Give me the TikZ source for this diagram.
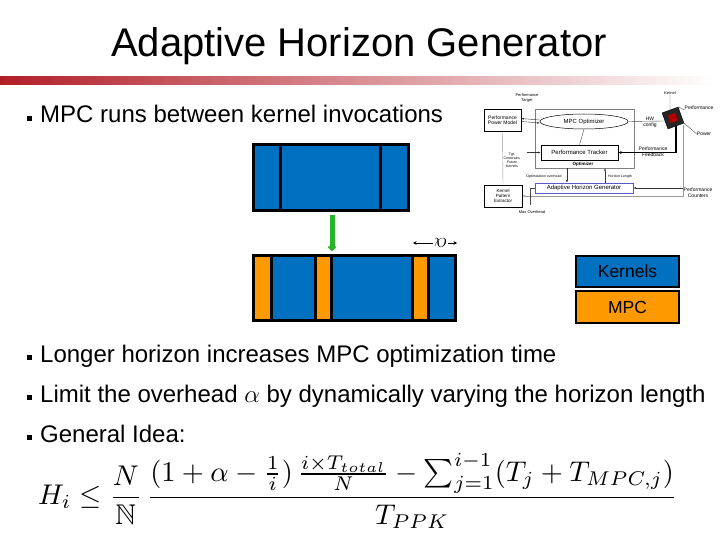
\documentclass[tikz,border=0pt]{standalone}
\usepackage{fontspec}
\setmainfont{Liberation Sans}
\usepackage{amssymb}
\usetikzlibrary{arrows.meta,shapes.geometric,calc}
\definecolor{kblue}{RGB}{0,112,192}
\definecolor{morange}{RGB}{255,153,0}
\definecolor{barred}{RGB}{178,30,40}
\definecolor{arrgreen}{RGB}{40,180,40}
\definecolor{ahgblue}{RGB}{90,90,200}
\tikzset{
  bultext/.style={anchor=base west, inner sep=0pt, font=\fontsize{24}{28}\selectfont},
  kseg/.style={draw=black, line width=3pt, fill=kblue},
  mseg/.style={draw=black, line width=3pt, fill=morange},
  legbox/.style={draw=black, line width=2pt, minimum width=103pt, inner sep=0pt, anchor=north west, font=\fontsize{17.5}{20}\selectfont},
  sbox/.style={draw=black, line width=0.6pt, inner sep=0pt, align=center, font=\fontsize{4.5}{5}\selectfont},
  tiny/.style={inner sep=0pt, align=center, font=\fontsize{4}{4.5}\selectfont},
  sline/.style={line width=0.4pt, black!70},
  sarr/.style={line width=0.4pt, black!80, -{Latex[length=2.5pt,width=2pt]}},
}
\begin{document}
\begin{tikzpicture}[x=1pt,y=-1pt]
\useasboundingbox (0,0) rectangle (720,540);
\fill[white] (0,0) rectangle (720,540);

% title and bar
\node[anchor=base, inner sep=0pt, font=\fontsize{40}{44}\selectfont] (title) at (359,57) {Adaptive Horizon Generator};
\shade[left color=barred, middle color=barred!40!white, right color=white] (0,77) rectangle (715,85);

% bullets
\foreach \yy in {123,362,402,442} {\fill (27,\yy-7) rectangle (32,\yy-2);}
\node[bultext] (b1) at (40,123) {MPC runs between kernel invocations};
\node[bultext] (b2) at (40,362) {Longer horizon increases MPC optimization time};
\node[bultext] (b3) at (40,402) {Limit the overhead $\alpha$ by dynamically varying the horizon length};
\node[bultext] (b4) at (40,442) {General Idea:};

% top kernel block
\draw[kseg] (253,145) rectangle (408,211);
\draw[line width=3pt] (280,145) -- (280,211);
\draw[line width=3pt] (380,145) -- (380,211);
\coordinate (gtop) at (332,215);
\coordinate (gbot) at (332,251);
\draw[line width=5pt, arrgreen, -{Triangle[round,width=10pt,length=5pt]}] (gtop) -- (gbot);

% bottom block
\draw[mseg] (253,255) rectangle (271,320);
\draw[kseg] (271,255) rectangle (315,320);
\draw[mseg] (315,255) rectangle (331,320);
\draw[kseg] (331,255) rectangle (412,320);
\draw[mseg] (412,255) rectangle (428,320);
\draw[kseg] (428,255) rectangle (455,320);

% alpha marker
\node[inner sep=0pt, rotate=180, font=\fontsize{22}{22}\selectfont] (al) at (440.5,243) {$\alpha$};
\coordinate (al1) at (413,243);
\coordinate (al2) at (457,243);
\draw[line width=1pt, -{Stealth[length=3.5pt,width=3.5pt]}] (al.east) ++(-1,0) -- (al1);
\draw[line width=1pt, -{Stealth[length=3.5pt,width=3.5pt]}] (al.west) ++(1,0) -- (al2);

% legend
\node[legbox, fill=kblue, minimum height=31pt] (kern) at (575,255) {Kernels};
\node[legbox, fill=morange, minimum height=32pt] (mpc) at (575,290) {MPC};

% small system diagram
\node[sbox, font=\fontsize{5}{5.5}\selectfont, minimum width=37pt, minimum height=22pt] (ppm) at (502.5,120) {Performance\\Power Model};
\node[draw=black!50, line width=0.5pt, minimum width=99pt, minimum height=59pt, inner sep=0pt] (opt) at (584.5,138.5) {};
\node[draw=black, line width=0.5pt, ellipse, minimum width=88pt, minimum height=15pt, inner sep=0pt, font=\fontsize{6}{6}\selectfont] (mpco) at (584,121.5) {MPC Optimizer};
\node[sbox, font=\fontsize{6}{6}\selectfont, minimum width=77pt, minimum height=15pt] (pt) at (579.5,152.5) {Performance Tracker};
\node[tiny, font=\bfseries\fontsize{4.5}{5}\selectfont] (optl) at (583,164.5) {Optimizer};
\node[draw=ahgblue, line width=0.8pt, minimum width=98pt, minimum height=10pt, inner sep=0pt, font=\fontsize{6}{6}\selectfont] (ahg) at (584,188) {Adaptive Horizon Generator};
\node[sbox, minimum width=38pt, minimum height=22pt] (kpe) at (503,196) {Kernel\\Pattern\\Extractor};
\node[draw=black, fill=black!85, rotate=20, minimum size=17pt, inner sep=0pt] (chip) at (673,118) {};
\node[fill=red!70!black, rotate=20, minimum size=8pt, inner sep=0pt] (chipc) at (chip) {};

\node[tiny] (ptg) at (527,98) {Performance\\Target};
\node[tiny, font=\fontsize{5}{6}\selectfont] (hwc) at (650,122) {HW\\config};
\node[tiny] (kn) at (670,93) {Kernel};
\node[tiny, font=\fontsize{5}{5}\selectfont] (perf) at (699,108) {Performance};
\node[tiny, font=\fontsize{5}{5}\selectfont] (pow) at (704,134) {Power};
\node[tiny, font=\fontsize{5}{6}\selectfont] (pfb) at (653,152) {Performance\\Feedback};
\node[tiny, font=\fontsize{3.5}{4}\selectfont] (tgt) at (512,160) {Tgt,\\Constraint,\\Future\\Kernels};
\node[tiny, font=\fontsize{3.5}{4}\selectfont] (ooh) at (544,177) {Optimization overhead};
\node[tiny, font=\fontsize{3.5}{4}\selectfont] (hl) at (620,177) {Horizon Length};
\node[tiny, font=\fontsize{5}{6}\selectfont] (pc) at (698,193) {Performance\\Counters};
\node[tiny] (mo) at (532,212) {Max Overhead};

\draw[sarr] ($(mpco.west)+(0,-1.5)$) -- ($(ppm.east)+(0,-1.5)$);
\draw[sarr] ($(ppm.east)+(0,1.5)$) -- ($(mpco.west)+(0,1.5)$);
\draw[sline] (mpco.east) -- (chip.west);
\draw[line width=1.5pt, -{Latex[length=3pt,width=3pt]}] (chip.south) |- (pt.east);
\draw[sline] (pt.north) -- (mpco.south);
\draw[sarr] (527,152.5) -- (pt.west);
\draw[sarr] (opt.south -| 567,0) -- (ahg.north -| 567,0);
\draw[sarr] (ahg.north -| 605,0) -- (opt.south -| 605,0);
\draw[sarr] (683,188) -- (ahg.east);
\draw[sline, black!40, -{Latex[length=2.5pt,width=2pt]}] (683,125) |- (kpe.east);
\draw[sline, black!40] (ppm.south) -- (kpe.north);
\draw[sline] (530,205) |- (ahg.west);
\draw[sline] (kn.south) -- (chip.north);
\draw[sline] (chip.north east) -- (perf.south west);
\draw[sline] (chip.south east) -- (pow.west);

% formula
\node[anchor=west, inner sep=0pt] (form) at (38,491) {\resizebox{639pt}{!}{$\displaystyle H_i \le \frac{N}{\mathbb{N}}\,\frac{(1+\alpha-\frac{1}{i})\,\frac{i\times T_{total}}{N} - \sum_{j=1}^{i-1}(T_j+T_{MPC,j})}{T_{PPK}}$}};
\end{tikzpicture}
\end{document}
